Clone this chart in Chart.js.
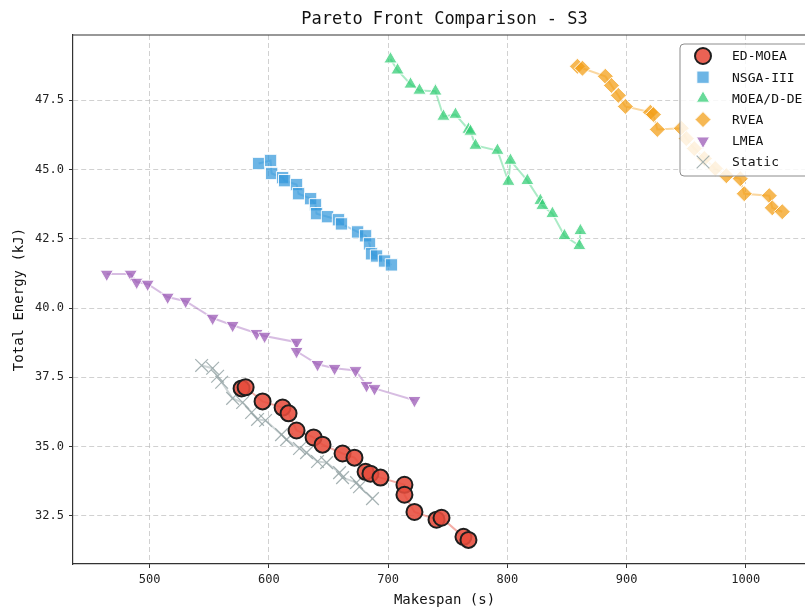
<!DOCTYPE html>
<html>
<head>
<meta charset="utf-8">
<title>Pareto Front Comparison - S3</title>
<script src="https://cdn.jsdelivr.net/npm/chart.js@4.4.0/dist/chart.umd.min.js"></script>
<style>
    html, body { margin: 0; padding: 0; background: #fff; overflow: hidden; }
    #wrap { width: 830px; height: 610px; }
</style>
</head>
<body>
<div id="wrap"><canvas id="paretoChart" width="830" height="610"></canvas></div>
<script>
// Series data (makespan in s, energy in kJ)
var edMakespan = [577.1, 580.5, 594.7, 611.5, 616.5, 623.2, 637.5, 645.0, 661.8, 671.8, 681.1, 685.2, 693.6, 713.7, 713.7, 722.1, 740.6, 744.8, 763.2, 767.4];
var edEnergy   = [37.10, 37.14, 36.63, 36.41, 36.20, 35.58, 35.33, 35.07, 34.75, 34.60, 34.09, 34.02, 33.88, 33.62, 33.26, 32.64, 32.36, 32.43, 31.74, 31.63];

var nsgaMakespan = [591.4, 601.4, 602.3, 611.5, 613.2, 623.2, 624.9, 635.0, 639.1, 640.0, 649.2, 658.4, 660.9, 674.4, 681.1, 684.4, 686.1, 690.3, 697.0, 702.8];
var nsgaEnergy   = [45.22, 45.33, 44.86, 44.71, 44.60, 44.46, 44.13, 43.95, 43.73, 43.41, 43.30, 43.19, 43.04, 42.75, 42.61, 42.32, 41.96, 41.88, 41.70, 41.56];

var moeadMakespan = [702.0, 707.9, 718.8, 726.3, 739.7, 746.4, 756.5, 767.4, 769.1, 773.3, 791.7, 800.9, 802.6, 816.8, 827.7, 829.4, 837.8, 847.9, 860.4, 861.3];
var moeadEnergy   = [48.99, 48.59, 48.08, 47.86, 47.83, 46.92, 46.99, 46.45, 46.38, 45.87, 45.69, 44.57, 45.33, 44.60, 43.88, 43.70, 43.41, 42.61, 42.25, 42.79];

var rveaMakespan = [858.8, 863.0, 882.2, 887.3, 893.1, 899.0, 920.0, 922.5, 925.8, 945.9, 950.1, 956.8, 965.2, 974.4, 983.7, 995.4, 998.7, 1019.7, 1022.2, 1030.6];
var rveaEnergy   = [48.73, 48.66, 48.37, 48.04, 47.68, 47.28, 47.07, 46.99, 46.45, 46.49, 46.12, 45.76, 45.40, 45.04, 44.78, 44.67, 44.13, 44.06, 43.62, 43.48];

var lmeaMakespan = [464.0, 484.1, 489.1, 498.3, 515.1, 530.2, 552.8, 569.6, 589.7, 596.4, 623.2, 623.2, 640.8, 655.1, 672.7, 681.9, 688.6, 722.1];
var lmeaEnergy   = [41.23, 41.23, 40.94, 40.87, 40.40, 40.25, 39.64, 39.38, 39.09, 38.99, 38.77, 38.44, 37.97, 37.83, 37.75, 37.21, 37.10, 36.67];

var staticMakespan = [543.6, 552.8, 557.0, 560.4, 569.6, 578.0, 585.5, 590.5, 597.2, 610.6, 614.8, 625.7, 631.6, 640.8, 648.4, 659.3, 661.8, 673.5, 676.0, 686.9];
var staticEnergy   = [37.93, 37.83, 37.54, 37.32, 36.74, 36.59, 36.23, 35.98, 35.94, 35.43, 35.25, 34.93, 34.78, 34.46, 34.42, 34.06, 33.88, 33.70, 33.55, 33.12];

var seriesLabels = ['ED-MOEA', 'NSGA-III', 'MOEA/D-DE', 'RVEA', 'LMEA', 'Static'];
var xLimits = [435.7, 1058.9];
var yLimits = [30.76, 49.86];

var FONT = 'DejaVu Sans Mono';

function toPoints(xs, ys) {
    return xs.map(function (x, i) { return { x: x, y: ys[i] }; });
}

// marker styles per series, shared by datasets and the legend
var styles = [
    { pointStyle: 'circle',   rotation: 0,   radius: 8,   fill: 'rgba(231,76,60,0.88)',  edge: '#1e1e1e', edgeWidth: 2,   line: 'rgba(231,76,60,0.45)' },
    { pointStyle: 'rect',     rotation: 0,   radius: 8.7, fill: 'rgba(52,152,219,0.72)', edge: 'rgba(255,255,255,0.9)', edgeWidth: 1, line: 'rgba(52,152,219,0.4)' },
    { pointStyle: 'triangle', rotation: 0,   radius: 7.6, fill: 'rgba(46,204,113,0.72)', edge: 'rgba(255,255,255,0.9)', edgeWidth: 1, line: 'rgba(46,204,113,0.4)' },
    { pointStyle: 'rectRot',  rotation: 0,   radius: 8,   fill: 'rgba(243,156,18,0.72)', edge: 'rgba(255,255,255,0.9)', edgeWidth: 1, line: 'rgba(243,156,18,0.4)' },
    { pointStyle: 'triangle', rotation: 180, radius: 7.6, fill: 'rgba(155,89,182,0.75)', edge: 'rgba(255,255,255,0.9)', edgeWidth: 1, line: 'rgba(155,89,182,0.4)' },
    { pointStyle: 'crossRot', rotation: 0,   radius: 9,   fill: 'rgba(149,165,166,0.8)', edge: 'rgba(149,165,166,0.85)', edgeWidth: 1.2, line: 'rgba(149,165,166,0.45)' }
];

var seriesData = [
    toPoints(edMakespan, edEnergy),
    toPoints(nsgaMakespan, nsgaEnergy),
    toPoints(moeadMakespan, moeadEnergy),
    toPoints(rveaMakespan, rveaEnergy),
    toPoints(lmeaMakespan, lmeaEnergy),
    toPoints(staticMakespan, staticEnergy)
];

var datasets = seriesLabels.map(function (label, i) {
    var s = styles[i];
    return {
        label: label,
        data: seriesData[i],
        showLine: true,
        borderColor: s.line,
        borderWidth: 2,
        pointStyle: s.pointStyle,
        rotation: s.rotation,
        pointRadius: s.radius,
        pointHoverRadius: s.radius,
        pointBackgroundColor: s.fill,
        pointBorderColor: s.edge,
        pointBorderWidth: s.edgeWidth,
        order: i
    };
});

// Title, top/right spines and the boxed legend drawn inside the plot
var extrasPlugin = {
    id: 'extras',
    afterDraw: function (chart) {
        var ctx = chart.ctx;
        var a = chart.chartArea;
        ctx.save();

        ctx.strokeStyle = '#333';
        ctx.lineWidth = 1.2;
        ctx.beginPath();
        ctx.moveTo(a.left, a.top);
        ctx.lineTo(a.right, a.top);
        ctx.lineTo(a.right, a.bottom);
        ctx.stroke();

        ctx.fillStyle = '#111';
        ctx.font = '17px "' + FONT + '"';
        ctx.textAlign = 'center';
        ctx.textBaseline = 'middle';
        ctx.fillText('Pareto Front Comparison - S3', (a.left + a.right) / 2, 20);

        // legend box
        var bx = 680, by = 44, bw = 130, bh = 132, r = 4;
        ctx.beginPath();
        ctx.moveTo(bx + r, by);
        ctx.lineTo(bx + bw - r, by);
        ctx.quadraticCurveTo(bx + bw, by, bx + bw, by + r);
        ctx.lineTo(bx + bw, by + bh - r);
        ctx.quadraticCurveTo(bx + bw, by + bh, bx + bw - r, by + bh);
        ctx.lineTo(bx + r, by + bh);
        ctx.quadraticCurveTo(bx, by + bh, bx, by + bh - r);
        ctx.lineTo(bx, by + r);
        ctx.quadraticCurveTo(bx, by, bx + r, by);
        ctx.closePath();
        ctx.fillStyle = 'rgba(255,255,255,0.82)';
        ctx.fill();
        ctx.strokeStyle = '#8c8c8c';
        ctx.lineWidth = 1;
        ctx.stroke();

        ctx.font = '13px "' + FONT + '"';
        ctx.textAlign = 'left';
        for (var i = 0; i < seriesLabels.length; i++) {
            var s = styles[i];
            var cy = 56 + i * 21.2;
            ctx.fillStyle = s.fill;
            ctx.strokeStyle = s.edge;
            ctx.lineWidth = s.edgeWidth;
            Chart.helpers.drawPoint(ctx, {
                pointStyle: s.pointStyle,
                rotation: s.rotation,
                radius: s.radius,
                borderWidth: s.edgeWidth
            }, 703, cy);
            ctx.fillStyle = '#111';
            ctx.fillText(seriesLabels[i], 732, cy + 1);
        }
        ctx.restore();
    }
};

var ctx = document.getElementById('paretoChart').getContext('2d');
var paretoChart = new Chart(ctx, {
    type: 'scatter',
    data: { datasets: datasets },
    options: {
        responsive: false,
        animation: false,
        devicePixelRatio: 1,
        layout: { padding: { top: 35, right: 14, bottom: 0, left: 0 } },
        plugins: {
            legend: { display: false },
            title: { display: false },
            tooltip: { enabled: false }
        },
        scales: {
            x: {
                type: 'linear',
                min: xLimits[0],
                max: xLimits[1],
                afterFit: function (scale) { scale.height = 46; },
                ticks: {
                    stepSize: 100,
                    includeBounds: false,
                    autoSkip: false,
                    maxRotation: 0,
                    padding: 5,
                    color: '#222',
                    font: { family: FONT, size: 12 },
                    callback: function (v) { return String(v); }
                },
                grid: {
                    color: 'rgba(190,190,190,0.7)',
                    lineWidth: 1,
                    tickLength: 4,
                    tickColor: '#333',
                    tickBorderDash: []
                },
                border: { display: true, color: '#333', width: 1.2, dash: [5, 3] },
                title: {
                    display: true,
                    text: 'Makespan (s)',
                    color: '#111',
                    font: { family: FONT, size: 14 },
                    padding: { top: 0, bottom: 1 }
                }
            },
            y: {
                type: 'linear',
                min: yLimits[0],
                max: yLimits[1],
                afterFit: function (scale) { scale.width = 73; },
                ticks: {
                    stepSize: 2.5,
                    includeBounds: false,
                    autoSkip: false,
                    padding: 5,
                    color: '#222',
                    font: { family: FONT, size: 12 },
                    callback: function (v) { return v.toFixed(1); }
                },
                grid: {
                    color: 'rgba(190,190,190,0.7)',
                    lineWidth: 1,
                    tickLength: 4,
                    tickColor: '#333',
                    tickBorderDash: []
                },
                border: { display: true, color: '#333', width: 1.2, dash: [5, 3] },
                title: {
                    display: true,
                    text: 'Total Energy (kJ)',
                    color: '#111',
                    font: { family: FONT, size: 14 },
                    padding: { top: 11, bottom: 0 }
                }
            }
        }
    },
    plugins: [extrasPlugin]
});
</script>
</body>
</html>
